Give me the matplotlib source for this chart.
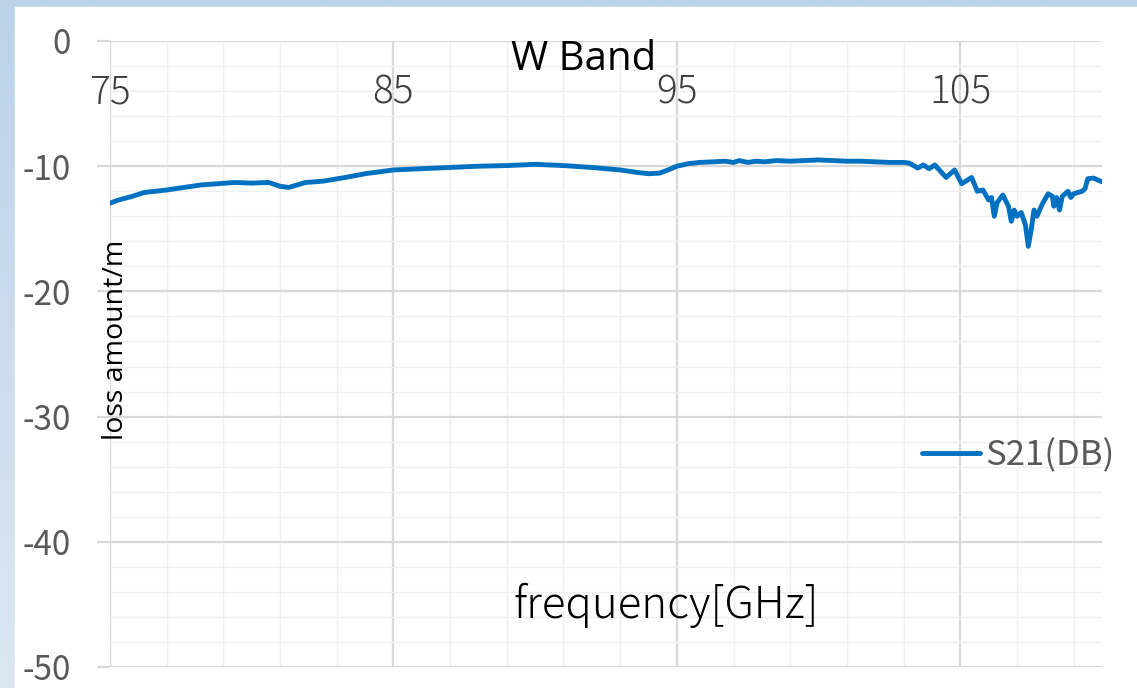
import matplotlib
matplotlib.use("Agg")
import matplotlib.pyplot as plt
import numpy as np
from matplotlib.transforms import blended_transform_factory

plt.rcParams['font.family'] = ['Noto Sans CJK JP', 'DejaVu Sans']
plt.rcParams['axes.unicode_minus'] = False

freq = [75.0, 75.3, 75.8, 76.2, 77.0, 77.6, 78.2, 78.8, 79.4, 80.0, 80.6, 81.0,
        81.3, 81.9, 82.5, 83.3, 84.0, 85.0, 86.0, 87.0, 88.0, 89.0, 90.0, 91.0,
        92.0, 93.0, 93.6, 94.0, 94.4, 94.8, 95.0, 95.4, 95.8, 96.3, 96.7, 97.0,
        97.2, 97.5, 97.8, 98.1, 98.5, 99.0, 99.5, 100.0, 100.5, 101.0, 101.5,
        102.0, 102.5, 103.0, 103.2, 103.5, 103.7, 103.9, 104.1, 104.5, 104.8,
        105.05, 105.4, 105.6, 105.8, 106.0, 106.1, 106.2, 106.3, 106.5, 106.7,
        106.8, 106.9, 107.0, 107.15, 107.3, 107.4, 107.5, 107.6, 107.7, 107.9,
        108.1, 108.25, 108.3, 108.4, 108.5, 108.6, 108.8, 108.9, 109.0, 109.3,
        109.4, 109.5, 109.7, 110.0]
s21 = [-12.95, -12.7, -12.4, -12.1, -11.9, -11.7, -11.5, -11.4, -11.3, -11.35, -11.3, -11.6,
       -11.7, -11.3, -11.2, -10.9, -10.6, -10.3, -10.2, -10.1, -10.0, -9.95, -9.85, -9.95,
       -10.1, -10.3, -10.5, -10.6, -10.55, -10.2, -10.0, -9.8, -9.7, -9.65, -9.6, -9.7,
       -9.55, -9.7, -9.6, -9.65, -9.55, -9.6, -9.55, -9.5, -9.55, -9.6, -9.6,
       -9.65, -9.7, -9.7, -9.75, -10.15, -9.9, -10.2, -9.9, -10.9, -10.3,
       -11.4, -10.9, -12.0, -11.9, -12.7, -12.5, -14.0, -12.9, -12.3, -13.2,
       -14.4, -13.5, -14.0, -13.7, -14.7, -16.4, -15.1, -13.5, -14.0, -13.0,
       -12.2, -12.4, -13.2, -12.5, -13.5, -12.4, -12.0, -12.5, -12.2, -12.0,
       -11.8, -11.0, -10.95, -11.25]

xticks = [75, 85, 95, 105]
yticks = [0, -10, -20, -30, -40, -50]

W, H = 1137, 688
fig = plt.figure(figsize=(W / 100, H / 100), dpi=100)

# light blue frame behind the white chart panel
bg = fig.add_axes([0, 0, 1, 1], zorder=-10)
grad = np.linspace(0, 1, 256).reshape(-1, 1)
bg.imshow(grad, aspect='auto', cmap=matplotlib.colors.LinearSegmentedColormap.from_list(
    'bgc', ['#BBD2E9', '#DCE7F3']), extent=[0, 1, 0, 1], origin='upper')
bg.add_patch(plt.Rectangle((15 / W, 0), 1, 1 - 7 / H, color='white', transform=bg.transAxes))
bg.set_xlim(0, 1)
bg.set_ylim(0, 1)
bg.axis('off')

ax = fig.add_axes([110 / W, 1 - 667 / H, (1102 - 110) / W, (667 - 41) / H])
ax.set_facecolor('none')
ax.plot(freq, s21, color='#0070C0', lw=3.5, solid_capstyle='round', label='S21(DB)', zorder=3)

ax.set_xlim(75, 110)
ax.set_ylim(-50, 0)
ax.set_xticks(xticks)
ax.set_xticks(np.arange(77, 110, 2), minor=True)
ax.set_yticks(yticks)
ax.set_yticks(np.arange(-48, 0, 2), minor=True)
ax.grid(which='major', color='#D9D9D9', lw=1.6)
ax.grid(which='minor', color='#EFEFEF', lw=1.0)
for s in ax.spines.values():
    s.set_visible(False)
ax.axvline(75, color='#D9D9D9', lw=1.6, zorder=1)

ax.tick_params(axis='x', which='both', length=0, labelbottom=False)
ax.tick_params(axis='y', which='major', length=9.4, width=1.6, color='#D9D9D9',
               labelsize=24, labelcolor='#595959', pad=19)
ax.tick_params(axis='y', which='minor', length=0)

tr = blended_transform_factory(ax.transData, ax.transAxes)
for t in xticks:
    ax.text(t, 0.918, str(t), transform=tr, ha='center', va='center',
            fontsize=28, color='#404040', fontweight='light')

ax.text(0.477, 0.97, 'W Band', transform=ax.transAxes, ha='center', va='center',
        fontsize=29, color='black', family='Open Sans')
ax.text(0.561, 0.099, 'frequency[GHz]', transform=ax.transAxes, ha='center', va='center',
        fontsize=31.5, color='black', fontweight='light')
ax.text(0.006, 0.522, 'loss amount/m', transform=ax.transAxes, rotation=90,
        ha='center', va='center', fontsize=20.5, color='black', family='Open Sans')

ax.legend(loc='center left', bbox_to_anchor=(0.8185, 0.337), frameon=False, fontsize=25,
          labelcolor='#595959', handlelength=1.67, handletextpad=0.15,
          borderpad=0, borderaxespad=0)

fig.savefig('out.png', dpi=100)
